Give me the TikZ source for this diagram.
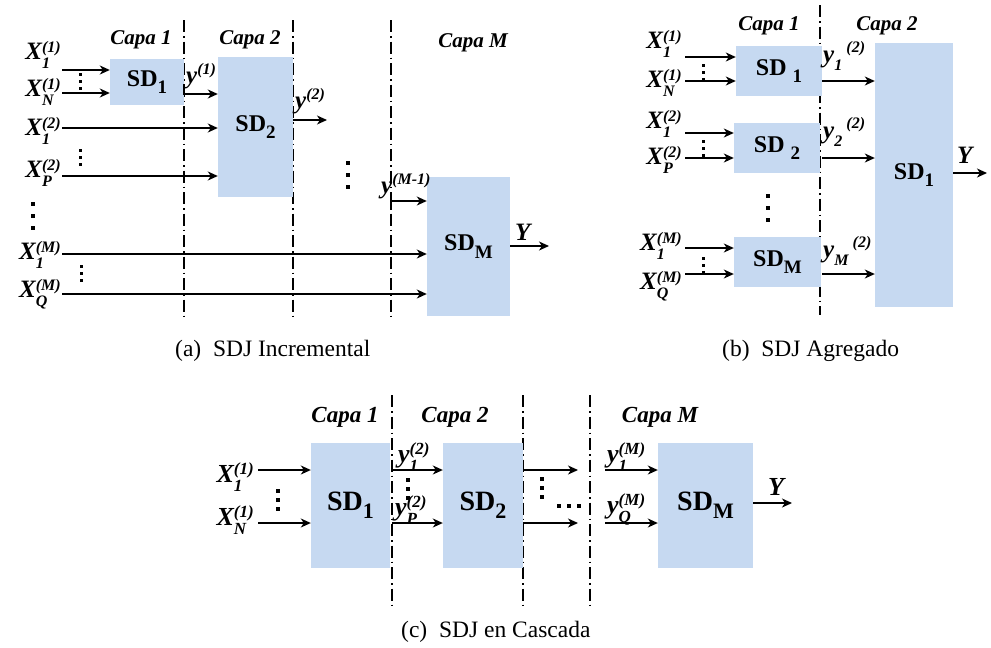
\documentclass[tikz,border=0pt]{standalone}
\usepackage{fontspec}
\setmainfont{Liberation Serif}
\usetikzlibrary{arrows.meta}
\definecolor{boxblue}{HTML}{C6D9F1}
\newcommand\fs[1]{\fontsize{#1}{#1}\selectfont}
\def\scs{16}
% stacked sub/superscript label
\newcommand\XL[3]{#1\rlap{\raisebox{-0.36em}{\fs{\scs}#2}}\raisebox{0.28em}{\fs{\scs}#3}}
% sequential sub then superscript
\newcommand\YL[3]{#1\raisebox{-0.32em}{\fs{\scs}#2}\,\raisebox{0.38em}{\fs{\scs}#3}}
\newcommand\SUP[2]{#1\raisebox{0.36em}{\fs{\scs}#2}}
\newcommand\SDs[2]{SD\raisebox{-0.3em}{\fs{#1}#2}}
\tikzset{
  arr/.style={line width=1.4pt, -{Stealth[length=10pt,width=9pt,inset=3pt]}},
  dd/.style={line width=1.2pt, dash pattern=on 12pt off 4pt on 1.5pt off 4pt},
  sdbox/.style={fill=boxblue, inner sep=0pt, font=\fs{24}\bfseries},
  lab/.style={inner sep=0pt, font=\fs{25}\bfseries\itshape},
  capa/.style={inner sep=0pt, anchor=base, font=\fs{21}\bfseries\itshape},
  captext/.style={inner sep=0pt, anchor=base west, font=\fs{23.5}},
  pics/vd/.style n args={2}{code={\foreach \k in {-1,0,1}{\fill[shift={(0,\k*#2)}] (-#1/2,-#1/2) rectangle (#1/2,#1/2);}}},
  pics/hd/.style n args={2}{code={\foreach \k in {-1,0,1}{\fill[shift={(\k*#2,0)}] (-#1/2,-#1/2) rectangle (#1/2,#1/2);}}},
}
\begin{document}
\begin{tikzpicture}[x=1pt,y=-1pt]
\useasboundingbox (0,0) rectangle (991,648);
%================ (a) =================
\draw[dd] (184,20) -- (184,320);
\draw[dd] (293,20) -- (293,320);
\draw[dd] (391,20) -- (391,320);
\node[sdbox, minimum width=74pt, minimum height=46pt] (sd1a) at (147,82) {\SDs{19}{1}};
\node[sdbox, minimum width=75pt, minimum height=140pt] (sd2a) at (255.5,127) {\SDs{19}{2}};
\node[sdbox, minimum width=83pt, minimum height=139pt] (sdMa) at (468.5,246.5) {\SDs{19}{M}};
\node[capa] (ca1) at (141,44) {Capa 1};
\node[capa] (ca2) at (250,44) {Capa 2};
\node[capa] (caM) at (473,47) {Capa M};
\node[lab, anchor=base east] (xa1) at (61,59) {\XL{X}{1}{(1)}};
\node[lab, anchor=base east] (xa2) at (61,96) {\XL{X}{N}{(1)}};
\node[lab, anchor=base east] (xa3) at (61,135) {\XL{X}{1}{(2)}};
\node[lab, anchor=base east] (xa4) at (61,177) {\XL{X}{P}{(2)}};
\node[lab, anchor=base east] (xa5) at (61,259) {\XL{X}{1}{(M)}};
\node[lab, anchor=base east] (xa6) at (61,297) {\XL{X}{Q}{(M)}};
\coordinate (sa1) at (62,70);
\coordinate (sa2) at (62,93);
\coordinate (sa3) at (62,128);
\coordinate (sa4) at (62,176);
\coordinate (sa5) at (62,254);
\coordinate (sa6) at (62,294);
\draw[arr] (sa1) -- (sa1 -| sd1a.west);
\draw[arr] (sa2) -- (sa2 -| sd1a.west);
\draw[arr] (sa3) -- (sa3 -| sd2a.west);
\draw[arr] (sa4) -- (sa4 -| sd2a.west);
\draw[arr] (sa5) -- (sa5 -| sdMa.west);
\draw[arr] (sa6) -- (sa6 -| sdMa.west);
\coordinate (ya1) at (184,94);
\draw[arr] (184,84) -- (ya1) -- (ya1 -| sd2a.west);
\node[lab, anchor=base west] (ly1) at (186,83) {\SUP{y}{(1)}};
\coordinate (ya2) at (293,120);
\coordinate (ya2e) at (327,120);
\draw[arr] (ya2) -- (ya2e);
\node[lab, anchor=base west] (ly2) at (295,108) {\SUP{y}{(2)}};
\coordinate (yaM) at (391,201);
\draw[arr] (391,209) -- (yaM) -- (yaM -| sdMa.west);
\node[lab, anchor=base west] (lyM) at (381,193) {\SUP{y}{(M-1)}};
\coordinate (Yae) at (549,246);
\draw[arr] (sdMa.east |- Yae) -- (Yae);
\node[lab, anchor=base west] (lYa) at (515,240) {Y};
\pic at (80,81) {vd={3}{7}};
\pic at (80,157) {vd={3}{7}};
\pic at (81,273) {vd={3}{7}};
\pic at (33,216) {vd={4.5}{12}};
\pic at (348,175) {vd={4.5}{12}};
\node[captext] (capa) at (175,356) {(a)\hspace{0.5em}SDJ Incremental};
%================ (b) =================
\draw[dd] (820,5) -- (820,315);
\node[sdbox, minimum width=86pt, minimum height=50pt] (sd1b) at (779,71) {SD \raisebox{-0.3em}{\fs{19}1}};
\node[sdbox, minimum width=86pt, minimum height=50pt] (sd2b) at (777,148) {SD \raisebox{-0.3em}{\fs{19}2}};
\node[sdbox, minimum width=87pt, minimum height=50pt] (sdMb) at (777.5,262) {\SDs{19}{M}};
\node[sdbox, minimum width=78pt, minimum height=264pt] (sdBb) at (914,175) {\SDs{19}{1}};
\node[capa] (cb1) at (769,30) {Capa 1};
\node[capa] (cb2) at (887,30) {Capa 2};
\node[lab, anchor=base east] (xb1) at (682,48) {\XL{X}{1}{(1)}};
\node[lab, anchor=base east] (xb2) at (682,87) {\XL{X}{N}{(1)}};
\node[lab, anchor=base east] (xb3) at (682,128) {\XL{X}{1}{(2)}};
\node[lab, anchor=base east] (xb4) at (682,164) {\XL{X}{P}{(2)}};
\node[lab, anchor=base east] (xb5) at (682,250) {\XL{X}{1}{(M)}};
\node[lab, anchor=base east] (xb6) at (682,289) {\XL{X}{Q}{(M)}};
\coordinate (sb1) at (685,57);
\coordinate (sb2) at (685,81);
\coordinate (sb3) at (685,133);
\coordinate (sb4) at (685,158);
\coordinate (sb5) at (685,248);
\coordinate (sb6) at (685,274);
\draw[arr] (sb1) -- (sb1 -| sd1b.west);
\draw[arr] (sb2) -- (sb2 -| sd1b.west);
\draw[arr] (sb3) -- (sb3 -| sd2b.west);
\draw[arr] (sb4) -- (sb4 -| sd2b.west);
\draw[arr] (sb5) -- (sb5 -| sdMb.west);
\draw[arr] (sb6) -- (sb6 -| sdMb.west);
\coordinate (yb1) at (822,81);
\coordinate (yb2) at (822,158);
\coordinate (yb3) at (822,274);
\draw[arr] (yb1) -- (yb1 -| sdBb.west);
\draw[arr] (yb2) -- (yb2 -| sdBb.west);
\draw[arr] (yb3) -- (yb3 -| sdBb.west);
\node[lab, anchor=base west] (lyb1) at (823,62) {\YL{y}{1}{(2)}};
\node[lab, anchor=base west] (lyb2) at (823,138) {\YL{y}{2}{(2)}};
\node[lab, anchor=base west] (lyb3) at (823,257) {\YL{y}{M}{(2)}};
\coordinate (Ybe) at (987,173);
\draw[arr] (sdBb.east |- Ybe) -- (Ybe);
\node[lab, anchor=base west] (lYb) at (957,163) {Y};
\pic at (703,72) {vd={3}{7}};
\pic at (703,148) {vd={3}{7}};
\pic at (703,265) {vd={3}{7}};
\pic at (768,208) {vd={4.5}{12}};
\node[captext] (capb) at (722,356) {(b)\hspace{0.5em}SDJ Agregado};
%================ (c) =================
\def\scs{17}
\draw[dd] (392,395) -- (392,605);
\draw[dd] (523,395) -- (523,605);
\draw[dd] (590,395) -- (590,605);
\node[sdbox, font=\fs{28}\bfseries, minimum width=79pt, minimum height=125pt] (sd1c) at (350.5,505.5) {\SDs{22}{1}};
\node[sdbox, font=\fs{28}\bfseries, minimum width=80pt, minimum height=125pt] (sd2c) at (483,505.5) {\SDs{22}{2}};
\node[sdbox, font=\fs{28}\bfseries, minimum width=95pt, minimum height=125pt] (sdMc) at (705.5,505.5) {\SDs{22}{M}};
\node[capa, font=\fs{23}\bfseries\itshape] (cc1) at (345,422) {Capa 1};
\node[capa, font=\fs{23}\bfseries\itshape] (cc2) at (455,422) {Capa 2};
\node[capa, font=\fs{23}\bfseries\itshape] (ccM) at (660,422) {Capa M};
\node[lab, font=\fs{26}\bfseries\itshape, anchor=base east] (xc1) at (254,482) {\XL{X}{1}{(1)}};
\node[lab, font=\fs{26}\bfseries\itshape, anchor=base east] (xc2) at (254,525) {\XL{X}{N}{(1)}};
\coordinate (sc1) at (258,470);
\coordinate (sc2) at (258,523);
\draw[arr] (sc1) -- (sc1 -| sd1c.west);
\draw[arr] (sc2) -- (sc2 -| sd1c.west);
\coordinate (yc1) at (392,470);
\coordinate (yc2) at (392,523);
\draw[arr] (yc1) -- (yc1 -| sd2c.west);
\draw[arr] (yc2) -- (yc2 -| sd2c.west);
\node[lab, font=\fs{26}\bfseries\itshape, anchor=base west] (lyc1) at (398,462) {\XL{y}{1}{(2)}};
\node[lab, font=\fs{26}\bfseries\itshape, anchor=base west] (lyc2) at (395,515) {\XL{y}{P}{(2)}};
\coordinate (zc1) at (523,470);
\coordinate (zc2) at (523,523);
\coordinate (zc1e) at (578,470);
\coordinate (zc2e) at (578,523);
\draw[arr] (zc1) -- (zc1e);
\draw[arr] (zc2) -- (zc2e);
\coordinate (wc1) at (605,470);
\coordinate (wc2) at (605,523);
\draw[arr] (wc1) -- (wc1 -| sdMc.west);
\draw[arr] (wc2) -- (wc2 -| sdMc.west);
\node[lab, font=\fs{26}\bfseries\itshape, anchor=base west] (lwc1) at (607,462) {\XL{y}{1}{(M)}};
\node[lab, font=\fs{26}\bfseries\itshape, anchor=base west] (lwc2) at (607,513) {\XL{y}{Q}{(M)}};
\coordinate (Yce) at (792,503);
\draw[arr] (sdMc.east |- Yce) -- (Yce);
\node[lab, font=\fs{26}\bfseries\itshape, anchor=base west] (lYc) at (768,495) {Y};
\pic at (278,500) {vd={3.5}{9}};
\pic at (408,489) {vd={3.5}{9}};
\pic at (542,488) {vd={3.5}{9}};
\pic at (569,506) {hd={4}{10}};
\node[captext] (capc) at (401,637) {(c)\hspace{0.5em}SDJ en Cascada};
\end{tikzpicture}
\end{document}
